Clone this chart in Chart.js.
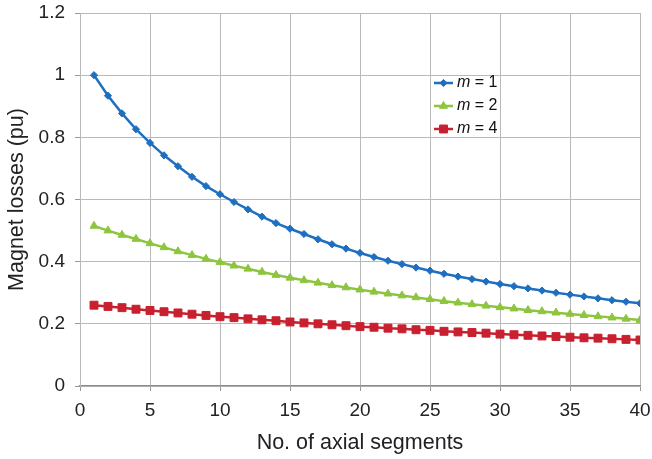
<!DOCTYPE html>
<html>
<head>
<meta charset="utf-8">
<script src="https://cdn.jsdelivr.net/npm/chart.js@4.4.1/dist/chart.umd.min.js"></script>
<style>
  html, body { margin: 0; padding: 0; background: #fff; }
  #wrap { width: 652px; height: 459px; }
</style>
</head>
<body>
<div id="wrap"><canvas id="lossChart" width="652" height="459"></canvas></div>
<script>
// ---- data ----
const segments = Array.from({ length: 40 }, (_, i) => i + 1);

const lossM1 = [1.0, 0.934, 0.877, 0.826, 0.782, 0.742, 0.707, 0.673, 0.643, 0.617,
  0.592, 0.568, 0.545, 0.524, 0.506, 0.489, 0.472, 0.456, 0.442, 0.428,
  0.415, 0.403, 0.392, 0.381, 0.371, 0.361, 0.352, 0.344, 0.336, 0.328,
  0.321, 0.314, 0.307, 0.300, 0.294, 0.288, 0.282, 0.276, 0.271, 0.266];

const lossM2 = [0.515, 0.500, 0.486, 0.473, 0.459, 0.446, 0.433, 0.421, 0.409, 0.398,
  0.387, 0.377, 0.367, 0.357, 0.348, 0.340, 0.332, 0.324, 0.317, 0.310,
  0.303, 0.297, 0.291, 0.285, 0.279, 0.273, 0.268, 0.263, 0.258, 0.253,
  0.249, 0.244, 0.240, 0.236, 0.232, 0.228, 0.224, 0.220, 0.216, 0.212];

const lossM4 = [0.260, 0.256, 0.252, 0.247, 0.243, 0.239, 0.235, 0.231, 0.227, 0.223,
  0.220, 0.216, 0.213, 0.210, 0.206, 0.203, 0.200, 0.197, 0.194, 0.191,
  0.189, 0.186, 0.184, 0.181, 0.179, 0.176, 0.174, 0.172, 0.170, 0.167,
  0.165, 0.163, 0.161, 0.159, 0.157, 0.155, 0.154, 0.152, 0.150, 0.148];

const seriesLabels = ['1', '2', '4'];
const xTicks = [0, 5, 10, 15, 20, 25, 30, 35, 40];
const yTicks = [0, 0.2, 0.4, 0.6, 0.8, 1, 1.2];

const FONT = "'Liberation Sans', Arial, Helvetica, sans-serif";
const GRID = '#b9b9b9';

/* =========================
   LEGEND (inside plot, like the original)
 ========================= */
const insideLegend = {
  id: 'insideLegend',
  afterDraw(chart) {
    const ctx = chart.ctx;
    const x0 = 434, x1 = 453, tx = 457;
    const rows = [83, 106, 129];
    chart.data.datasets.forEach((ds, i) => {
      const y = rows[i];
      ctx.save();
      ctx.strokeStyle = ds.borderColor;
      ctx.lineWidth = ds.borderWidth;
      ctx.beginPath();
      ctx.moveTo(x0, y);
      ctx.lineTo(x1, y);
      ctx.stroke();
      ctx.fillStyle = ds.pointBackgroundColor;
      ctx.strokeStyle = ds.pointBorderColor;
      ctx.lineWidth = 1;
      Chart.helpers.drawPoint(ctx, {
        pointStyle: ds.pointStyle, radius: ds.pointRadius, rotation: 0, borderWidth: 1
      }, (x0 + x1) / 2, y);
      ctx.fillStyle = '#111';
      ctx.textBaseline = 'middle';
      ctx.textAlign = 'left';
      ctx.font = 'italic 16px ' + FONT;
      ctx.fillText('m', tx, y);
      const w = ctx.measureText('m').width;
      ctx.font = '16px ' + FONT;
      ctx.fillText(' = ' + seriesLabels[i], tx + w, y);
      ctx.restore();
    });
  }
};

function makeSet(label, values, color, style, radius) {
  return {
    label: label,
    data: values.map((v, i) => ({ x: segments[i], y: v })),
    borderColor: color,
    backgroundColor: color,
    pointBackgroundColor: color,
    pointBorderColor: color,
    pointBorderWidth: 1,
    borderWidth: 2.5,
    pointStyle: style,
    pointRadius: radius,
    tension: 0
  };
}

const ctx = document.getElementById('lossChart').getContext('2d');
new Chart(ctx, {
  type: 'line',
  data: {
    datasets: [
      makeSet('m = 1', lossM1, '#1f6fc1', 'rectRot', 3.6),
      makeSet('m = 2', lossM2, '#8dc53e', 'triangle', 4.6),
      makeSet('m = 4', lossM4, '#c8202f', 'rect', 5.6)
    ]
  },
  options: {
    responsive: false,
    animation: false,
    layout: { padding: { top: 13, right: 12, left: 0, bottom: 0 } },
    plugins: {
      legend: { display: false },
      tooltip: { enabled: false }
    },
    scales: {
      x: {
        type: 'linear',
        min: 0,
        max: 40,
        afterBuildTicks: s => { s.ticks = xTicks.map(v => ({ value: v })); },
        afterFit: s => { s.height = 73; s.paddingLeft = 0; s.paddingRight = 0; },
        grid: { color: GRID, lineWidth: 1, tickLength: 5, tickColor: '#999' },
        border: { color: '#8c8c8c', width: 1.3 },
        ticks: { color: '#222', font: { family: FONT, size: 19 }, padding: 8, maxRotation: 0 },
        title: {
          display: true,
          text: 'No. of axial segments',
          color: '#222',
          font: { family: FONT, size: 21.5 },
          padding: { top: 0, bottom: 3 }
        }
      },
      y: {
        min: 0,
        max: 1.2,
        afterBuildTicks: s => { s.ticks = yTicks.map(v => ({ value: v })); },
        afterFit: s => { s.width = 80; s.paddingTop = 0; s.paddingBottom = 0; },
        grid: { color: GRID, lineWidth: 1, tickLength: 5, tickColor: '#999' },
        border: { color: GRID, width: 1 },
        ticks: {
          color: '#222',
          font: { family: FONT, size: 19 },
          padding: 10,
          callback: v => String(+v.toFixed(1))
        },
        title: {
          display: true,
          text: 'Magnet losses (pu)',
          color: '#222',
          font: { family: FONT, size: 21.5 },
          padding: { top: 4, bottom: 0 }
        }
      }
    }
  },
  plugins: [insideLegend]
});
</script>
</body>
</html>
